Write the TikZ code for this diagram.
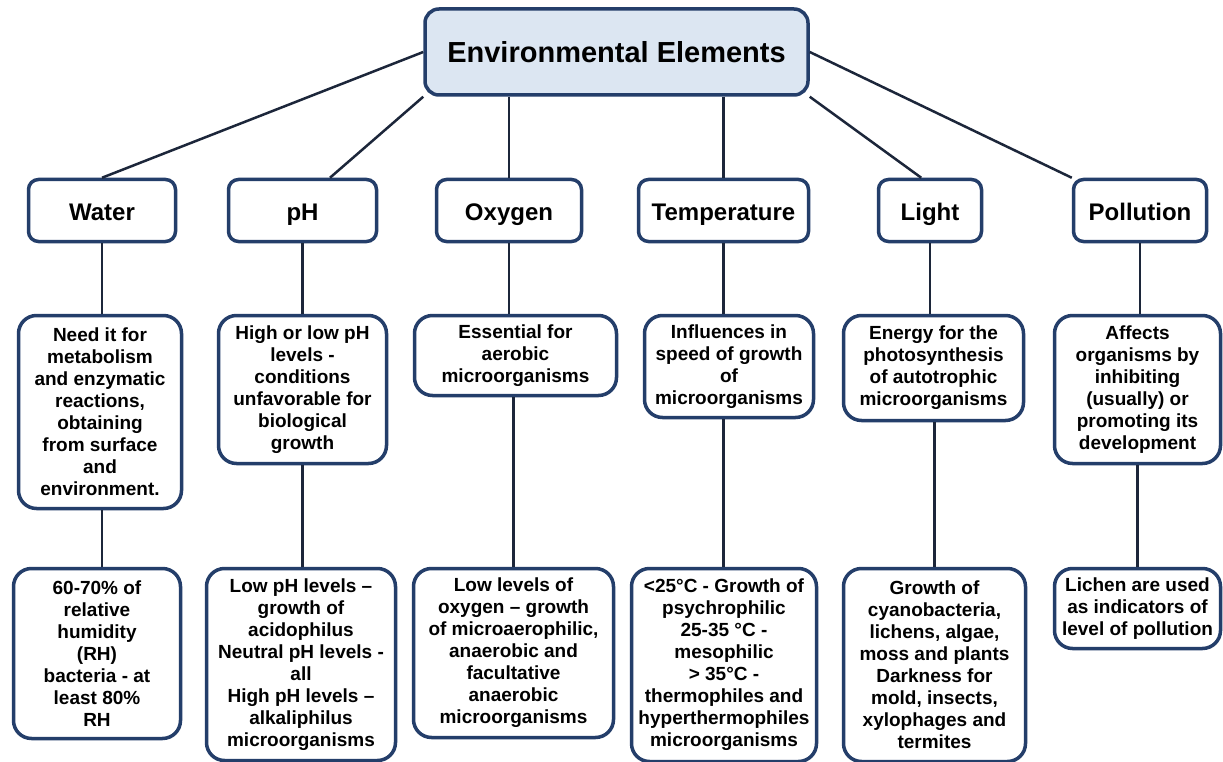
\documentclass[tikz,border=0pt]{standalone}
\usepackage{fontspec}
\setmainfont{Liberation Sans}
\usepackage{xcolor}
\usepackage{tikz}
\usetikzlibrary{positioning}
\definecolor{elemnavy}{RGB}{36,62,106}
\definecolor{elemline}{RGB}{28,38,58}
\definecolor{elemfill}{RGB}{220,230,242}
\tikzset{
  rootbox/.style={
    rectangle,
    rounded corners=14pt,
    draw=elemnavy,
    line width=3.5pt,
    fill=elemfill,
    font=\bfseries\fontsize{29}{33}\selectfont,
    minimum width=383pt,
    minimum height=86pt
  },
  elembox/.style={
    rectangle,
    rounded corners=10pt,
    draw=elemnavy,
    line width=3.5pt,
    fill=white,
    font=\bfseries\fontsize{24}{27}\selectfont,
    text height=22pt,
    text depth=3pt,
    minimum height=62pt,
    inner sep=2pt
  },
  notebox/.style={
    rectangle,
    rounded corners=18pt,
    draw=elemnavy,
    line width=3.5pt,
    fill=white,
    align=center,
    anchor=north,
    inner sep=2pt,
    font=\bfseries\fontsize{19}{22}\selectfont
  },
  elemlink/.style={
    draw=elemline,
    line width=2.5pt
  }
}

\begin{document}
\begin{tikzpicture}[x=1pt, y=-1pt]
\useasboundingbox[fill=white] (0,0) rectangle (1223,762);

\node[rootbox] (root) at (616.5,52) {Environmental Elements};

\node[elembox, minimum width=147pt] (water) at (102,210.5) {Water};
\node[elembox, minimum width=148pt] (ph) at (302.5,210.5) {pH};
\node[elembox, minimum width=145pt] (oxygen) at (509,210.5) {Oxygen};
\node[elembox, minimum width=170pt] (temp) at (723.5,210.5) {Temperature};
\node[elembox, minimum width=103pt] (light) at (930,210.5) {Light};
\node[elembox, minimum width=133pt] (pollution) at (1140,210.5) {Pollution};

\node[notebox, minimum width=163pt, minimum height=193pt] (waterA) at (100,313.75) {Need it for\\metabolism\\and enzymatic\\reactions,\\obtaining\\from surface\\and\\environment.};
\node[notebox, minimum width=168pt, minimum height=148pt] (phA) at (302.5,313.75) {High or low pH\\levels -\\conditions\\unfavorable for\\biological\\growth};
\node[notebox, minimum width=202pt, minimum height=80pt] (oxygenA) at (515.5,313.75) {Essential for\\aerobic\\microorganisms};
\node[notebox, minimum width=169pt, minimum height=102pt] (tempA) at (729,313.75) {Influences in\\speed of growth\\of\\microorganisms};
\node[notebox, minimum width=180pt, minimum height=105pt] (lightA) at (933.5,313.75) {Energy for the\\photosynthesis\\of autotrophic\\microorganisms};
\node[notebox, minimum width=166pt, minimum height=148pt] (pollutionA) at (1137.5,313.75) {Affects\\organisms by\\inhibiting\\(usually) or\\promoting its\\development};

\node[notebox, minimum width=167pt, minimum height=170pt] (waterB) at (97,566.75) {60-70\% of\\relative\\humidity\\(RH)\\bacteria - at\\least 80\%\\RH};
\node[notebox, minimum width=189pt, minimum height=192pt] (phB) at (301,566.75) {Low pH levels --\\growth of\\acidophilus\\Neutral pH levels -\\all\\High pH levels --\\alkaliphilus\\microorganisms};
\node[notebox, minimum width=200pt, minimum height=169pt] (oxygenB) at (513.5,566.75) {Low levels of\\oxygen -- growth\\of microaerophilic,\\anaerobic and\\facultative\\anaerobic\\microorganisms};
\node[notebox, minimum width=185pt, minimum height=193pt] (tempB) at (724,566.75) {<25°C - Growth of\\psychrophilic\\25-35 °C -\\mesophilic\\> 35°C -\\thermophiles and\\hyperthermophiles\\microorganisms};
\node[notebox, minimum width=182pt, minimum height=193pt] (lightB) at (934.5,566.75) {Growth of\\cyanobacteria,\\lichens, algae,\\moss and plants\\Darkness for\\mold, insects,\\xylophages and\\termites};
\node[notebox, minimum width=166pt, minimum height=80pt] (pollutionB) at (1137.5,566.75) {Lichen are used\\as indicators of\\level of pollution};

\draw[elemlink] (root.west) -- (water.north);
\draw[elemlink] (root.south west) -- (ph.50);
\draw[elemlink] (root.south -| oxygen.north) -- (oxygen.north);
\draw[elemlink] (root.south -| temp.north) -- (temp.north);
\draw[elemlink] (root.south east) -- (light.105);
\draw[elemlink] (root.east) -- (pollution.north west);

\draw[elemlink] (water.south) -- (water.south |- waterA.north);
\draw[elemlink] (ph.south) -- (ph.south |- phA.north);
\draw[elemlink] (oxygen.south) -- (oxygen.south |- oxygenA.north);
\draw[elemlink] (temp.south) -- (temp.south |- tempA.north);
\draw[elemlink] (light.south) -- (light.south |- lightA.north);
\draw[elemlink] (pollution.south) -- (pollution.south |- pollutionA.north);

\draw[elemlink] (waterA.south -| water.south) -- (water.south |- waterB.north);
\draw[elemlink] (phA.south -| ph.south) -- (ph.south |- phB.north);
\draw[elemlink] (oxygenA.south -| oxygenB.north) -- (oxygenB.north);
\draw[elemlink] (tempA.south -| temp.south) -- (temp.south |- tempB.north);
\draw[elemlink] (lightA.south -| lightB.north) -- (lightB.north);
\draw[elemlink] (pollutionA.south) -- (pollutionA.south |- pollutionB.north);
\end{tikzpicture}
\end{document}
